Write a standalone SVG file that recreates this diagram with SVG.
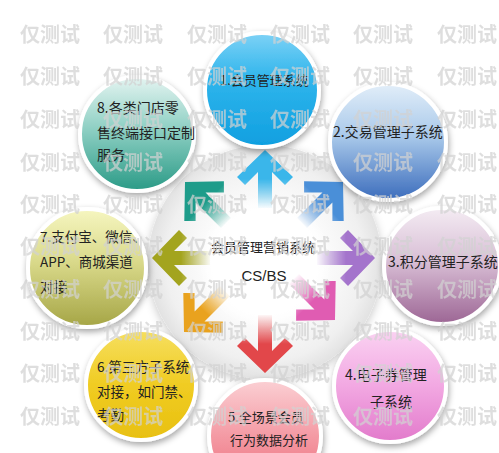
<svg xmlns="http://www.w3.org/2000/svg" width="499" height="453" viewBox="0 0 499 453">
<defs>
<style>
.t{font-family:"Noto Sans CJK SC","Liberation Sans",sans-serif;fill:#222;}
.wm{font-family:"Noto Sans CJK SC",sans-serif;font-size:20px;font-weight:bold;fill:#d2d2d2;opacity:0.72;}
.ring{stroke:#fff;stroke-width:4;filter:url(#sh);}
</style>
<filter id="sh" x="-30%" y="-30%" width="160%" height="160%">
<feDropShadow dx="1" dy="3" stdDeviation="3" flood-color="#000" flood-opacity="0.35"/>
</filter>
<filter id="sh2" x="-30%" y="-30%" width="160%" height="160%">
<feDropShadow dx="0" dy="3" stdDeviation="5" flood-color="#000" flood-opacity="0.22"/>
</filter>
<radialGradient id="disc" cx="0.5" cy="0.5" r="0.5">
<stop offset="0" stop-color="#ffffff"/>
<stop offset="0.5" stop-color="#fcfcfc"/>
<stop offset="0.85" stop-color="#f0f0f0"/>
<stop offset="1" stop-color="#e2e2e2"/>
</radialGradient>
<radialGradient id="inner" cx="0.5" cy="0.5" r="0.5">
<stop offset="0" stop-color="#ffffff"/>
<stop offset="0.8" stop-color="#ffffff"/>
<stop offset="1" stop-color="#ffffff" stop-opacity="0"/>
</radialGradient>
<linearGradient id="fadeG" gradientUnits="userSpaceOnUse" x1="0" y1="0" x2="0" y2="58">
<stop offset="0" stop-color="#fff"/>
<stop offset="0.5" stop-color="#fff"/>
<stop offset="1" stop-color="#fff" stop-opacity="0.05"/>
</linearGradient>
<mask id="fade" maskUnits="userSpaceOnUse" x="-40" y="-5" width="80" height="70">
<rect x="-40" y="-5" width="80" height="70" fill="url(#fadeG)"/>
</mask>
<path id="arrow" d="M0,0 L28,27 L20,35 L7,22 L7,58 L-7,58 L-7,22 L-20,35 L-28,27 Z"/>
<linearGradient id="g1" x1="0" y1="0" x2="0" y2="1"><stop offset="0" stop-color="#7ed2f6"/><stop offset="0.4" stop-color="#2fb5ec"/><stop offset="1" stop-color="#0f9fe0"/></linearGradient>
<linearGradient id="g2" x1="0" y1="0" x2="0" y2="1"><stop offset="0" stop-color="#e2eef9"/><stop offset="0.45" stop-color="#a9c9ea"/><stop offset="1" stop-color="#3b6cbc"/></linearGradient>
<linearGradient id="g3" x1="0" y1="0" x2="0" y2="1"><stop offset="0" stop-color="#f4ecf3"/><stop offset="0.45" stop-color="#d9bfd6"/><stop offset="1" stop-color="#9c6594"/></linearGradient>
<linearGradient id="g4" x1="0" y1="0" x2="0" y2="1"><stop offset="0" stop-color="#fad2f2"/><stop offset="0.5" stop-color="#f2a8e2"/><stop offset="1" stop-color="#e27acb"/></linearGradient>
<linearGradient id="g5" x1="0" y1="0" x2="0" y2="1"><stop offset="0" stop-color="#fbd0d4"/><stop offset="0.5" stop-color="#f49aa4"/><stop offset="1" stop-color="#ec6a78"/></linearGradient>
<linearGradient id="g6" x1="0" y1="0" x2="0" y2="1"><stop offset="0" stop-color="#f6df60"/><stop offset="0.5" stop-color="#f0cc22"/><stop offset="1" stop-color="#e8c010"/></linearGradient>
<linearGradient id="g7" x1="0" y1="0" x2="0" y2="1"><stop offset="0" stop-color="#f6f6c0"/><stop offset="0.45" stop-color="#d9d98a"/><stop offset="1" stop-color="#a5a545"/></linearGradient>
<linearGradient id="g8" x1="0" y1="0" x2="0" y2="1"><stop offset="0" stop-color="#e4f4f1"/><stop offset="0.45" stop-color="#8fd0c4"/><stop offset="1" stop-color="#2a9a86"/></linearGradient>
</defs>
<rect x="0" y="0" width="499" height="453" fill="#ffffff"/>

<g id="hub">
<circle cx="265" cy="262" r="117" fill="url(#disc)" filter="url(#sh2)"/>
<circle cx="265" cy="262" r="66" fill="url(#inner)"/>
</g>

<g id="connectors">
<g transform="translate(265,150) rotate(0)"><use href="#arrow" fill="#3ab6ea" mask="url(#fade)"/></g>
<g transform="translate(343,182) rotate(45)"><use href="#arrow" fill="#4a8fd8" mask="url(#fade)"/></g>
<g transform="translate(375,258) rotate(90)"><use href="#arrow" fill="#a474cc" mask="url(#fade)"/></g>
<g transform="translate(335,320) rotate(135)"><use href="#arrow" fill="#e05cb2" mask="url(#fade)"/></g>
<g transform="translate(265,373) rotate(180)"><use href="#arrow" fill="#e2474a" mask="url(#fade)"/></g>
<g transform="translate(184,332) rotate(225)"><use href="#arrow" fill="#e9a21e" mask="url(#fade)"/></g>
<g transform="translate(152,258) rotate(270)"><use href="#arrow" fill="#a3a41e" mask="url(#fade)"/></g>
<g transform="translate(185,182) rotate(315)"><use href="#arrow" fill="#1e9c8a" mask="url(#fade)"/></g>
</g>

<g id="center">
<text class="t" x="263" y="252" font-size="13" text-anchor="middle">会员管理营销系统</text>
<text class="t" x="264" y="281" font-size="15" text-anchor="middle" style="font-family:'Liberation Sans',sans-serif">CS/BS</text>
</g>

<g id="node1">
<circle class="ring" cx="262" cy="90" r="57" fill="url(#g1)"/>
<text class="t" x="220" y="85" font-size="13">1.会员管理系统</text>
</g>
<g id="node2">
<circle class="ring" cx="388" cy="142" r="58" fill="url(#g2)"/>
<text class="t" x="333" y="137" font-size="14">2.交易管理子系统</text>
</g>
<g id="node3">
<circle class="ring" cx="442" cy="266" r="58" fill="url(#g3)"/>
<text class="t" x="388" y="267" font-size="14">3.积分管理子系统</text>
</g>
<g id="node4">
<circle class="ring" cx="390" cy="386" r="56" fill="url(#g4)"/>
<text class="t" x="345" y="380" font-size="14">4.电子券管理</text>
<text class="t" x="370" y="407" font-size="14">子系统</text>
</g>
<g id="node5">
<circle class="ring" cx="265" cy="436" r="56" fill="url(#g5)"/>
<text class="t" x="228" y="422" font-size="13">5.全场景会员</text>
<text class="t" x="230" y="445" font-size="13">行为数据分析</text>
</g>
<g id="node6">
<circle class="ring" cx="141" cy="385" r="55" fill="url(#g6)"/>
<text class="t" x="97" y="372" font-size="13.5">6.第三方子系统</text>
<text class="t" x="97" y="397" font-size="13.5">对接，如门禁、</text>
<text class="t" x="97" y="420" font-size="13.5">考勤</text>
</g>
<g id="node7">
<circle class="ring" cx="87" cy="268" r="59" fill="url(#g7)"/>
<text class="t" x="40" y="242" font-size="13.5">7.支付宝、微信、</text>
<text class="t" x="40" y="267" font-size="13.5">APP、商城渠道</text>
<text class="t" x="40" y="292" font-size="13.5">对接</text>
</g>
<g id="node8">
<circle class="ring" cx="137" cy="134" r="57" fill="url(#g8)"/>
<text class="t" x="97" y="113" font-size="14">8.各类门店零</text>
<text class="t" x="97" y="138" font-size="14">售终端接口定制</text>
<text class="t" x="97" y="160" font-size="14">服务</text>
</g>

<g id="watermark">
<text class="wm" x="20" y="42">仅测试</text><text class="wm" x="103" y="42">仅测试</text><text class="wm" x="187" y="42">仅测试</text><text class="wm" x="270" y="42">仅测试</text><text class="wm" x="353" y="42">仅测试</text><text class="wm" x="437" y="42">仅测试</text>
<text class="wm" x="20" y="84">仅测试</text><text class="wm" x="103" y="84">仅测试</text><text class="wm" x="187" y="84">仅测试</text><text class="wm" x="270" y="84">仅测试</text><text class="wm" x="353" y="84">仅测试</text><text class="wm" x="437" y="84">仅测试</text>
<text class="wm" x="20" y="127">仅测试</text><text class="wm" x="103" y="127">仅测试</text><text class="wm" x="187" y="127">仅测试</text><text class="wm" x="270" y="127">仅测试</text><text class="wm" x="353" y="127">仅测试</text><text class="wm" x="437" y="127">仅测试</text>
<text class="wm" x="20" y="170">仅测试</text><text class="wm" x="103" y="170">仅测试</text><text class="wm" x="187" y="170">仅测试</text><text class="wm" x="270" y="170">仅测试</text><text class="wm" x="353" y="170">仅测试</text><text class="wm" x="437" y="170">仅测试</text>
<text class="wm" x="20" y="212">仅测试</text><text class="wm" x="103" y="212">仅测试</text><text class="wm" x="187" y="212">仅测试</text><text class="wm" x="270" y="212">仅测试</text><text class="wm" x="353" y="212">仅测试</text><text class="wm" x="437" y="212">仅测试</text>
<text class="wm" x="20" y="254">仅测试</text><text class="wm" x="103" y="254">仅测试</text><text class="wm" x="187" y="254">仅测试</text><text class="wm" x="270" y="254">仅测试</text><text class="wm" x="353" y="254">仅测试</text><text class="wm" x="437" y="254">仅测试</text>
<text class="wm" x="20" y="297">仅测试</text><text class="wm" x="103" y="297">仅测试</text><text class="wm" x="187" y="297">仅测试</text><text class="wm" x="270" y="297">仅测试</text><text class="wm" x="353" y="297">仅测试</text><text class="wm" x="437" y="297">仅测试</text>
<text class="wm" x="20" y="339">仅测试</text><text class="wm" x="103" y="339">仅测试</text><text class="wm" x="187" y="339">仅测试</text><text class="wm" x="270" y="339">仅测试</text><text class="wm" x="353" y="339">仅测试</text><text class="wm" x="437" y="339">仅测试</text>
<text class="wm" x="20" y="381">仅测试</text><text class="wm" x="103" y="381">仅测试</text><text class="wm" x="187" y="381">仅测试</text><text class="wm" x="270" y="381">仅测试</text><text class="wm" x="353" y="381">仅测试</text><text class="wm" x="437" y="381">仅测试</text>
<text class="wm" x="20" y="424">仅测试</text><text class="wm" x="103" y="424">仅测试</text><text class="wm" x="187" y="424">仅测试</text><text class="wm" x="270" y="424">仅测试</text><text class="wm" x="353" y="424">仅测试</text><text class="wm" x="437" y="424">仅测试</text>
</g>
</svg>
